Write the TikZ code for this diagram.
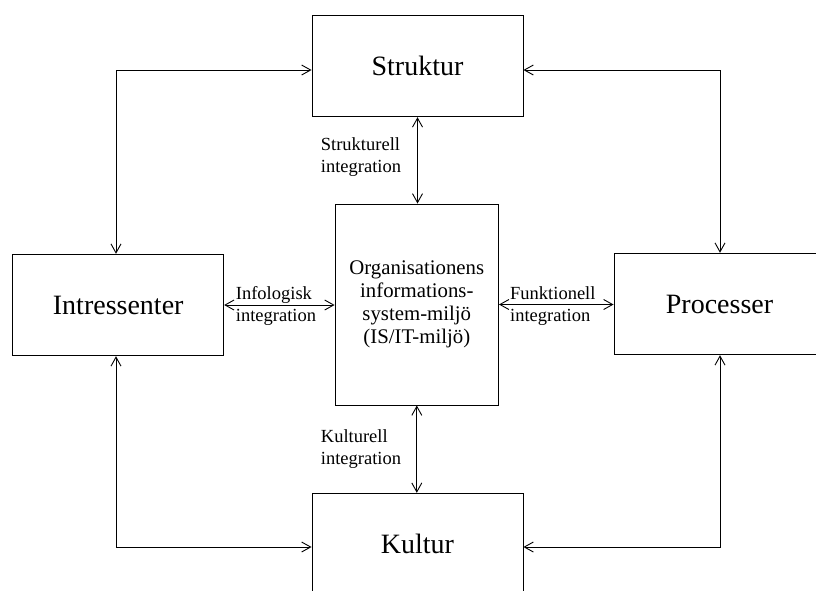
\documentclass[tikz,border=0pt]{standalone}
\usepackage{fontspec}
\setmainfont{Liberation Serif}
\usetikzlibrary{arrows.meta}
\begin{document}
\begin{tikzpicture}[x=1pt,y=-1pt,
  box/.style={draw, line width=0.9pt, inner sep=0pt, minimum width=211pt,
    minimum height=101.5pt, font=\fontsize{28}{32}\selectfont},
  hub/.style={draw, line width=0.9pt, inner sep=0pt, minimum width=163.5pt,
    minimum height=201pt, align=center, font=\fontsize{20.8}{23}\selectfont},
  lbl/.style={inner sep=0pt, align=left, font=\fontsize{18.5}{21.5}\selectfont},
  link/.style={line width=0.9pt,
    {Straight Barb[length=9pt,width=10pt]}-{Straight Barb[length=9pt,width=10pt]}}
]
\useasboundingbox (0,0) rectangle (816,590);
\clip (0,0) rectangle (816,590);

% the four surrounding aspects
\node[box] (struktur) at (417.5,66) {Struktur};
\node[box] (intr) at (118.2,305) {Intressenter};
\node[box] (proc) at (719.5,304) {Processer};
\node[box] (kultur) at (417.5,544) {Kultur};

% the IS/IT environment in the middle
\node[hub] (hub) at (416.8,304.5)
  {Organisationens\\informations-\\system-miljö\\(IS/IT-miljö)};

% guide lines for the outer ring of connectors
\coordinate (colL) at (116,0);
\coordinate (colR) at (720,0);
\coordinate (rowT) at (0,70);
\coordinate (rowB) at (0,547);

% outer ring
\draw[link] (struktur.west |- rowT) -| (intr.north -| colL);
\draw[link] (struktur.east |- rowT) -| (proc.north -| colR);
\draw[link] (intr.south -| colL) |- (kultur.west |- rowB);
\draw[link] (proc.south -| colR) |- (kultur.east |- rowB);

% integration links to the centre
\draw[link] (struktur.south) -- (struktur.south |- hub.north);
\draw[link] (hub.south) -- (hub.south |- kultur.north);
\draw[link] (intr.east) -- (intr.east -| hub.west);
\draw[link] (hub.east) -- (hub.east -| proc.west);

% integration labels
\node[lbl, anchor=west] (lstr) at (320.7,157) {Strukturell\\integration};
\node[lbl, anchor=west] (lkul) at (320.7,449) {Kulturell\\integration};
\node[lbl, anchor=west] (linf) at (235.7,306) {Infologisk\\integration};
\node[lbl, anchor=west] (lfun) at (510,306) {Funktionell\\integration};
\end{tikzpicture}
\end{document}
